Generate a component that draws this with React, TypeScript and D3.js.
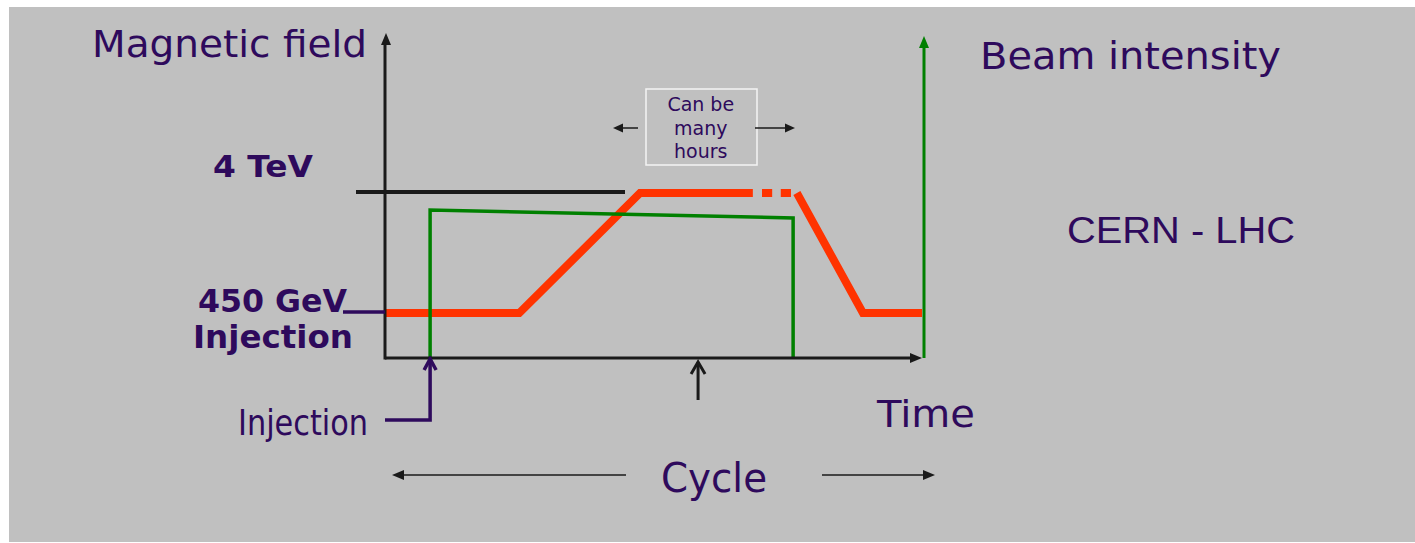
import React from "react";
import * as d3 from "d3";

// ---- Data (schematic LHC cycle) ----
// time in arbitrary units 0..100 along the time axis
const fieldTimes = [0, 25, 47.5, 68.5];
const fieldValues = [450, 450, 4000, 4000]; // GeV
const fieldDashTimes = [
  [70.2, 72.1],
  [73.7, 75.6],
];
const rampDownTimes = [76.7, 89, 100];
const rampDownValues = [4000, 450, 450];

const intensityTimes = [8.4, 8.4, 76, 76];
const intensityValues = [0, 1, 0.946, 0];

const injectionTime = 8.4;
const cycleMarkTime = 58.3;
const boxCenterTime = 58.8;

const fieldLevels = [
  { label: "4 TeV", value: 4000 },
  { label: "450 GeV", value: 450 },
];
const boxLines = ["Can be", "many", "hours"];

const W = 1415;
const H = 543;
const TEXT = "#2e0a5c";
const RED = "#ff3300";
const GREEN = "#008000";
const BLACK = "#1a1a1a";

export default function App() {
  const x = d3.scaleLinear().domain([0, 100]).range([385, 922]);
  const yB = d3.scaleLinear().domain([450, 4000]).range([313, 193]);
  const yI = d3.scaleLinear().domain([0, 1]).range([358, 210]);
  const axisY = yI(0);
  const axisX = x(0);

  const lineB = d3
    .line<number>()
    .x((_, i) => x(fieldTimes[i]))
    .y((d) => yB(d));
  const lineDown = d3
    .line<number>()
    .x((_, i) => x(rampDownTimes[i]))
    .y((d) => yB(d));
  const lineI = d3
    .line<number>()
    .x((_, i) => x(intensityTimes[i]))
    .y((d) => yI(d));

  const tri = (tx: number, ty: number, dir: "up" | "left" | "right", l = 10, w = 5) => {
    if (dir === "up") return `M${tx},${ty} L${tx - w},${ty + l} L${tx + w},${ty + l} Z`;
    if (dir === "left") return `M${tx},${ty} L${tx + l},${ty - w} L${tx + l},${ty + w} Z`;
    return `M${tx},${ty} L${tx - l},${ty - w} L${tx - l},${ty + w} Z`;
  };

  const injX = x(injectionTime);
  const markX = x(cycleMarkTime);
  const boxX = x(boxCenterTime);
  const top = yB(fieldLevels[0].value);
  const low = yB(fieldLevels[1].value);
  const rightAxisX = x(100) + 2;

  return (
    <svg
      width={W}
      height={H}
      style={{ position: "absolute", left: 0, top: 0, display: "block" }}
      fontFamily="'DejaVu Sans', Verdana, sans-serif"
    >
      <rect x={0} y={0} width={W} height={H} fill="#ffffff" />
      <rect x={9} y={7} width={W - 9} height={535} fill="#c0c0c0" />

      {/* 4 TeV reference line */}
      <line x1={356} x2={625} y1={top - 1} y2={top - 1} stroke={BLACK} strokeWidth={4} />

      {/* magnetic field (red) */}
      <path d={lineB(fieldValues) || ""} fill="none" stroke={RED} strokeWidth={8} strokeLinejoin="miter" />
      {fieldDashTimes.map((d, i) => (
        <line key={i} x1={x(d[0])} x2={x(d[1])} y1={top} y2={top} stroke={RED} strokeWidth={8} />
      ))}
      <path d={lineDown(rampDownValues) || ""} fill="none" stroke={RED} strokeWidth={8} />

      {/* beam intensity (green) */}
      <path d={lineI(intensityValues) || ""} fill="none" stroke={GREEN} strokeWidth={3.5} />

      {/* axes */}
      <line x1={axisX} x2={axisX} y1={axisY + 1.5} y2={42} stroke={BLACK} strokeWidth={3} />
      <path d={tri(axisX + 1, 33, "up", 12, 5)} fill={BLACK} />
      <line x1={axisX} x2={x(100) - 8} y1={axisY} y2={axisY} stroke={BLACK} strokeWidth={3} />
      <path d={tri(x(100), axisY, "right", 12, 5)} fill={BLACK} />

      {/* beam intensity axis */}
      <line x1={rightAxisX} x2={rightAxisX} y1={axisY} y2={46} stroke={GREEN} strokeWidth={3} />
      <path d={tri(rightAxisX, 36, "up", 12, 5)} fill={GREEN} />

      {/* 450 GeV connector */}
      <line x1={343} x2={axisX} y1={low - 1} y2={low - 1} stroke={TEXT} strokeWidth={3.5} />

      {/* injection arrow */}
      <path
        d={`M385,420 L${injX},420 L${injX},${axisY + 1}`}
        fill="none"
        stroke={TEXT}
        strokeWidth={3.5}
      />
      <path
        d={`M${injX - 6},${axisY + 12} L${injX},${axisY + 1} L${injX + 6},${axisY + 12}`}
        fill="none"
        stroke={TEXT}
        strokeWidth={3.5}
      />

      {/* cycle mark arrow */}
      <line x1={markX} x2={markX} y1={400} y2={362} stroke={BLACK} strokeWidth={3} />
      <path
        d={`M${markX - 7},${374} L${markX},${362} L${markX + 7},${374}`}
        fill="none"
        stroke={BLACK}
        strokeWidth={3}
      />

      {/* Can be many hours box */}
      <rect x={646} y={89} width={111} height={76} fill="none" stroke="#f4f4f4" strokeWidth={1.5} />
      {boxLines.map((t, i) => (
        <text key={t} x={boxX} y={111 + i * 23.5} fontSize={19} fill={TEXT} textAnchor="middle">
          {t}
        </text>
      ))}
      <line x1={638} x2={620} y1={128} y2={128} stroke={BLACK} strokeWidth={1.5} />
      <path d={tri(613, 128, "left", 10, 4.5)} fill={BLACK} />
      <line x1={755} x2={788} y1={128} y2={128} stroke={BLACK} strokeWidth={1.5} />
      <path d={tri(795, 128, "right", 10, 4.5)} fill={BLACK} />

      {/* Cycle arrows */}
      <line x1={626} x2={400} y1={475} y2={475} stroke={BLACK} strokeWidth={1.5} />
      <path d={tri(392, 475, "left", 12, 5)} fill={BLACK} />
      <line x1={822} x2={927} y1={475} y2={475} stroke={BLACK} strokeWidth={1.5} />
      <path d={tri(935, 475, "right", 12, 5)} fill={BLACK} />

      {/* texts */}
      <g fill={TEXT}>
        <text x={92} y={57} fontSize={38} textLength={275} lengthAdjust="spacingAndGlyphs">
          Magnetic field
        </text>
        <text x={980} y={69} fontSize={37} textLength={301} lengthAdjust="spacingAndGlyphs">
          Beam intensity
        </text>
        <text x={213} y={177} fontSize={30} fontWeight="bold" textLength={100} lengthAdjust="spacingAndGlyphs">
          {fieldLevels[0].label}
        </text>
        <text x={198} y={312} fontSize={32} fontWeight="bold" textLength={149} lengthAdjust="spacingAndGlyphs">
          {fieldLevels[1].label}
        </text>
        <text x={193} y={348} fontSize={32} fontWeight="bold" textLength={160} lengthAdjust="spacingAndGlyphs">
          Injection
        </text>
        <text
          x={1067}
          y={243}
          fontSize={36}
          fontFamily="'Liberation Sans', Arial, sans-serif"
          textLength={228}
          lengthAdjust="spacingAndGlyphs"
        >
          CERN - LHC
        </text>
        <text
          x={238}
          y={435}
          fontSize={36}
          fontFamily="'DejaVu Sans Condensed', 'DejaVu Sans', sans-serif"
          textLength={130}
          lengthAdjust="spacingAndGlyphs"
        >
          Injection
        </text>
        <text x={877} y={427} fontSize={38} textLength={98} lengthAdjust="spacingAndGlyphs">
          Time
        </text>
        <text x={661} y={492} fontSize={40} textLength={106} lengthAdjust="spacingAndGlyphs">
          Cycle
        </text>
      </g>
    </svg>
  );
}
